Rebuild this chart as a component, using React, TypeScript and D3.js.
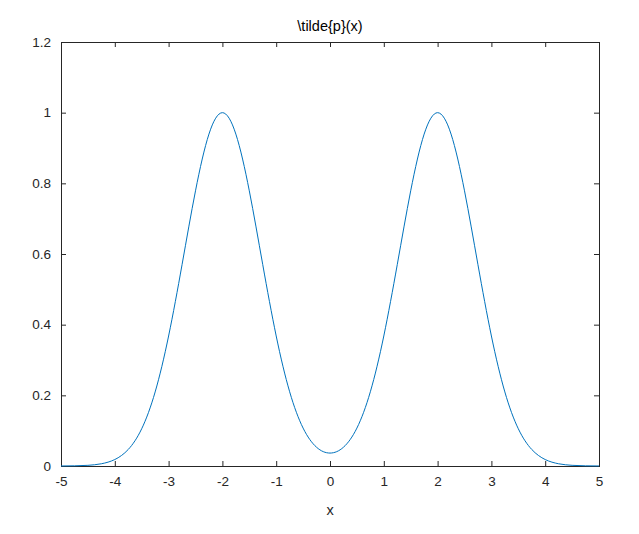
import React, { useEffect, useRef } from 'react';
import * as d3 from 'd3';

// samples
const xValues = [-5, -4.75, -4.5, -4.25, -4, -3.75, -3.5, -3.25, -3, -2.75, -2.5, -2.25, -2, -1.75, -1.5, -1.25, -1, -0.75, -0.5, -0.25, 0,
  0.25, 0.5, 0.75, 1, 1.25, 1.5, 1.75, 2, 2.25, 2.5, 2.75, 3, 3.25, 3.5, 3.75, 4, 4.25, 4.5, 4.75, 5];
const yValues = [0.0001, 0.0005, 0.0019, 0.0063, 0.0183, 0.0468, 0.1054, 0.2096, 0.3679, 0.5698, 0.7788, 0.9394, 1.0, 0.9394, 0.7788, 0.5698, 0.368, 0.2101, 0.1073, 0.0531, 0.0366,
  0.0531, 0.1073, 0.2101, 0.368, 0.5698, 0.7788, 0.9394, 1.0, 0.9394, 0.7788, 0.5698, 0.3679, 0.2096, 0.1054, 0.0468, 0.0183, 0.0063, 0.0019, 0.0005, 0.0001];
const xTicks = [-5, -4, -3, -2, -1, 0, 1, 2, 3, 4, 5];
const yTicks = [0, 0.2, 0.4, 0.6, 0.8, 1, 1.2];
const titleText = '\\tilde{p}(x)';
const xLabelText = 'x';

const App = () => {
  const svgRef = useRef<SVGSVGElement>(null);
  const totalWidth = 639;
  const totalHeight = 534;
  const margin = { top: 42, right: 40, bottom: 68, left: 61 };
  const width = 599 - margin.left;
  const height = 466 - margin.top;

  useEffect(() => {
    d3.select(svgRef.current).selectAll('*').remove();
    const root = d3.select(svgRef.current);
    const svg = root.append('g')
      .attr('transform', `translate(${margin.left},${margin.top})`);

    const x = d3.scaleLinear().domain([-5, 5]).range([0, width]);
    const y = d3.scaleLinear().domain([0, 1.2]).range([height, 0]);
    const axisColor = '#262626';
    const font = 'Arial, "Liberation Sans", sans-serif';

    const styleAxis = (g: any) => {
      g.select('.domain').remove();
      g.selectAll('line').attr('stroke', axisColor);
      g.selectAll('text').attr('fill', axisColor).style('font-family', font).style('font-size', '13.5px');
    };

    // bottom + top
    svg.append('g')
      .attr('transform', `translate(0,${height})`)
      .call(d3.axisBottom(x).tickValues(xTicks).tickSize(-5).tickPadding(10).tickFormat((d: any) => String(d)) as any)
      .call(styleAxis);
    svg.append('g')
      .call(d3.axisTop(x).tickValues(xTicks).tickSize(-5).tickFormat(() => '') as any)
      .call(styleAxis);
    // left + right
    svg.append('g')
      .call(d3.axisLeft(y).tickValues(yTicks).tickSize(-5).tickPadding(10).tickFormat((d: any) => String(+d.toFixed(1))) as any)
      .call(styleAxis);
    svg.append('g')
      .attr('transform', `translate(${width},0)`)
      .call(d3.axisRight(y).tickValues(yTicks).tickSize(-5).tickFormat(() => '') as any)
      .call(styleAxis);

    svg.append('rect')
      .attr('x', 0).attr('y', 0)
      .attr('width', width).attr('height', height)
      .attr('fill', 'none')
      .attr('stroke', axisColor)
      .attr('stroke-width', 1)
      .attr('shape-rendering', 'crispEdges');

    const points = xValues.map((v, i) => [v, yValues[i]] as [number, number]);
    const line = d3.line<[number, number]>()
      .x(d => x(d[0]))
      .y(d => y(d[1]))
      .curve(d3.curveNatural);
    svg.append('path')
      .datum(points)
      .attr('d', line)
      .attr('fill', 'none')
      .attr('stroke', '#0072BD')
      .attr('stroke-width', 1);

    svg.append('text')
      .attr('x', width / 2)
      .attr('y', -11)
      .attr('text-anchor', 'middle')
      .attr('fill', '#000')
      .style('font-family', font)
      .style('font-size', '14.5px')
      .text(titleText);

    svg.append('text')
      .attr('x', width / 2)
      .attr('y', height + 49)
      .attr('text-anchor', 'middle')
      .attr('fill', axisColor)
      .style('font-family', font)
      .style('font-size', '14.5px')
      .text(xLabelText);
  }, []);

  return (
    <svg ref={svgRef} width={totalWidth} height={totalHeight} style={{ display: 'block', margin: '-8px', background: '#fff' }} />
  );
};

export default App;
